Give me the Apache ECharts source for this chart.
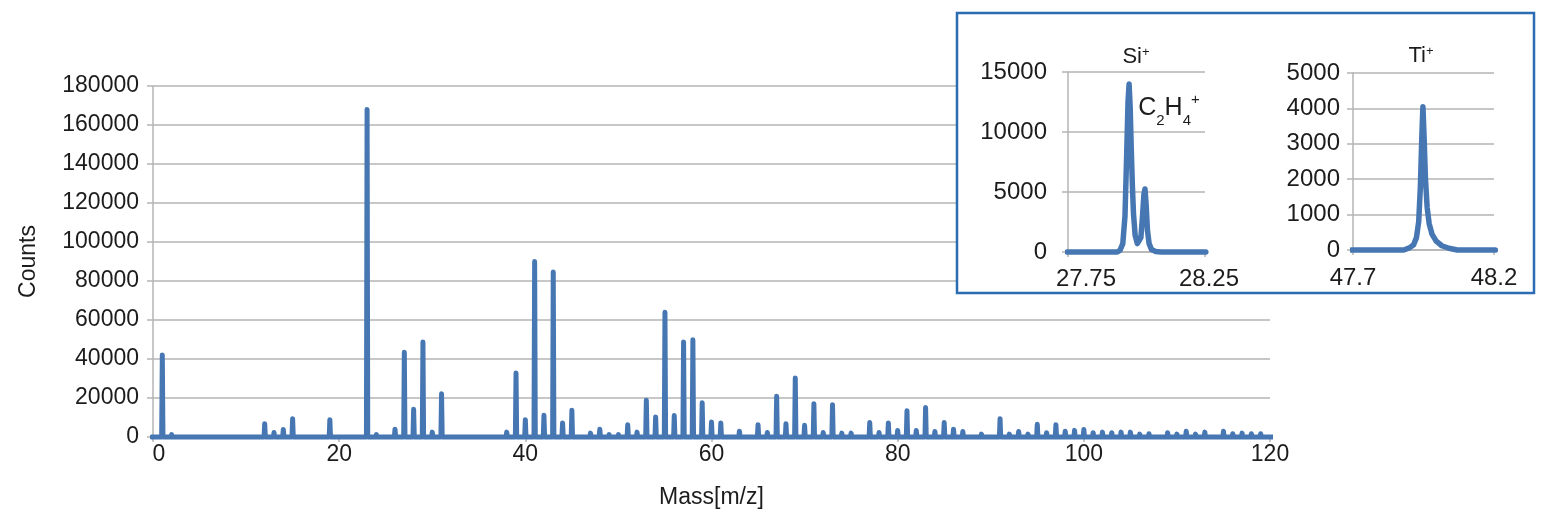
<!DOCTYPE html>
<html>
<head>
<meta charset="utf-8">
<script src="https://cdn.jsdelivr.net/npm/echarts@6/dist/echarts.min.js"></script>
<style>
html,body{margin:0;padding:0;background:#fff;}
#chart{width:1559px;height:520px;}
</style>
</head>
<body>
<div id="chart"></div>
<script>
// ---- Main spectrum: peak masses (m/z) and counts ----
var peakMasses = [1,2,3,6,7,11,12,13,14,15,16,17,18,19,20,21,23,24,26,27,28,29,30,31,37,38,39,40,41,42,43,44,45,46,47,48,49,50,51,52,53,54,55,56,57,58,59,60,61,62,63,64,65,66,67,68,69,70,71,72,73,74,75,76,77,78,79,80,81,82,83,84,85,86,87,88,89,90,91,92,93,94,95,96,97,98,99,100,101,102,103,104,105,106,107,108,109,110,111,112,113,114,115,116,117,118,119,120,121];
var peakCounts = [42000,1200,700,700,700,700,6800,2300,3800,9400,800,700,700,8900,700,700,168000,1200,4000,43500,14200,48700,2500,22200,700,2500,32800,8900,90000,11100,84600,7200,13700,700,2000,4000,1200,1200,6300,2500,18800,10300,64000,11000,48700,49900,17600,7700,7200,800,3000,800,6300,2300,20900,6800,30300,6000,17100,2300,16600,2000,2000,1000,7400,2300,7200,3300,13400,3300,15100,2800,7400,4000,2800,900,1500,800,9400,1500,2800,1500,6500,2200,6300,2900,3400,3800,2200,2500,2200,2500,2500,1500,1700,800,2200,1500,2900,1500,2500,800,2900,1700,2000,1700,1700,900,900];
var spectrumRange = [-0.15, 121.3];
var mainYTicks = [0,20000,40000,60000,80000,100000,120000,140000,160000,180000];
var mainXTicks = [0,20,40,60,80,100,120];

// ---- Inset 1: Si+ / C2H4+ around m/z 28 ----
var siMass   = [27.747,27.90,27.930,27.940,27.950,27.958,27.964,27.969,27.973,27.977,27.981,27.985,27.989,27.995,28.003,28.010,28.016,28.022,28.027,28.031,28.035,28.040,28.046,28.055,28.070,28.090,28.253];
var siCounts = [0,0,0,150,700,3000,8000,12500,14000,12000,8500,5500,3200,1400,700,550,1200,3000,4800,5250,4000,1800,700,200,50,0,0];
var siXTicks = [27.75, 28.25];
var siYTicks = [0,5000,10000,15000];

// ---- Inset 2: Ti+ around m/z 48 ----
var tiMass   = [47.695,47.88,47.90,47.915,47.925,47.933,47.939,47.944,47.948,47.952,47.957,47.963,47.970,47.980,47.995,48.015,48.040,48.070,48.205];
var tiCounts = [0,0,60,150,350,800,1800,3200,4050,3200,2000,1200,750,450,250,120,50,0,0];
var tiXTicks = [47.7, 48.2];
var tiYTicks = [0,1000,2000,3000,4000,5000];

var BLUE = '#4777b3';
var GRID = '#b5b5b5';
var TXT = '#1c1c1c';
var FONT = '"Liberation Sans", Arial, sans-serif';

// Build stick spectrum polyline from peak arrays
var spec = [[spectrumRange[0], 0]];
for (var i = 0; i < peakMasses.length; i++) {
  var m = peakMasses[i];
  spec.push([m - 0.07, 0], [m, peakCounts[i]], [m + 0.07, 0]);
}
spec.push([spectrumRange[1], 0]);

function pairs(xs, ys) { return xs.map(function (x, k) { return [x, ys[k]]; }); }
function plain(v) { return String(v); }

var chart = echarts.init(document.getElementById('chart'), null, {renderer: 'canvas'});

function valueAxisX(gridIndex, min, max, ticks, fs, margin, z, zlevel, fmt) {
  return {
    type: 'value', gridIndex: gridIndex, min: min, max: max,
    zlevel: zlevel, z: z,
    axisLine: {show: true, onZero: false, lineStyle: {color: GRID, width: 1.5}},
    axisTick: {show: true, length: 5, lineStyle: {color: GRID, width: 1.5}, customValues: ticks},
    splitLine: {show: false},
    axisLabel: {show: true, fontSize: fs, color: TXT, fontFamily: FONT, margin: margin, customValues: ticks, formatter: fmt}
  };
}
function valueAxisY(gridIndex, ticks, fs, margin, z, zlevel, nameOpts) {
  var o = {
    type: 'value', gridIndex: gridIndex, min: ticks[0], max: ticks[ticks.length - 1],
    interval: ticks[1] - ticks[0],
    zlevel: zlevel, z: z,
    axisLine: {show: true, lineStyle: {color: GRID, width: 1.5}},
    axisTick: {show: true, length: 6, lineStyle: {color: GRID, width: 1.5}},
    splitLine: {show: true, lineStyle: {color: GRID, width: 1.5}},
    axisLabel: {fontSize: fs, color: TXT, fontFamily: FONT, margin: margin, formatter: plain}
  };
  if (nameOpts) { for (var k in nameOpts) o[k] = nameOpts[k]; }
  return o;
}

var option = {
  backgroundColor: '#ffffff',
  animation: false,
  grid: [
    {left: 153, top: 86, width: 1117, height: 351},
    {left: 1068, top: 72, width: 137, height: 180},
    {left: 1353, top: 73, width: 141, height: 177}
  ],
  xAxis: [
    (function () {
      var a = valueAxisX(0, 0, 120, mainXTicks, 23, 6, 0, 0, function (v) {
        return v === 0 ? '{f|0}' : String(v);
      });
      a.axisLabel.rich = {f: {fontSize: 23, color: TXT, fontFamily: FONT, padding: [0, 0, 0, 12]}};
      a.name = 'Mass[m/z]';
      a.nameLocation = 'middle';
      a.nameGap = 49;
      a.nameTextStyle = {fontSize: 23, color: TXT, fontFamily: FONT};
      return a;
    })(),
    (function () {
      var a = valueAxisX(1, 27.75, 28.25, siXTicks, 24, 15, 1, 1, function (v) {
        return v < 28 ? '{f|27.75}' : '{g|28.25}';
      });
      a.axisLabel.rich = {
        f: {fontSize: 24, color: TXT, fontFamily: FONT, padding: [0, 0, 0, 36]},
        g: {fontSize: 24, color: TXT, fontFamily: FONT, padding: [0, 0, 0, 8]}
      };
      return a;
    })(),
    valueAxisX(2, 47.7, 48.2, tiXTicks, 24, 16, 1, 1, function (v) { return v.toFixed(1); })
  ],
  yAxis: [
    valueAxisY(0, mainYTicks, 23, 14, 0, 0, {
      name: 'Counts', nameLocation: 'middle', nameGap: 113,
      nameTextStyle: {fontSize: 23, color: TXT, fontFamily: FONT}
    }),
    valueAxisY(1, siYTicks, 24, 21, 1, 1),
    valueAxisY(2, tiYTicks, 24, 13, 1, 1)
  ],
  graphic: [
    {
      type: 'rect', zlevel: 1, z: 0, silent: true,
      shape: {x: 957, y: 13, width: 577, height: 280},
      style: {fill: '#ffffff', stroke: '#2b6cb3', lineWidth: 2.5}
    },
    {
      type: 'text', zlevel: 1, z: 10, silent: true,
      style: {
        text: '{m|Si}{s|+}', x: 1136, y: 45.5, align: 'center', verticalAlign: 'top',
        rich: {
          m: {fontSize: 22, fontFamily: FONT, fill: TXT, lineHeight: 22, verticalAlign: 'top'},
          s: {fontSize: 13, fontFamily: FONT, fill: TXT, lineHeight: 17, verticalAlign: 'top'}
        }
      }
    },
    {
      type: 'text', zlevel: 1, z: 10, silent: true,
      style: {
        text: '{m|Ti}{s|+}', x: 1421, y: 45, align: 'center', verticalAlign: 'top',
        rich: {
          m: {fontSize: 22, fontFamily: FONT, fill: TXT, lineHeight: 22, verticalAlign: 'top'},
          s: {fontSize: 13, fontFamily: FONT, fill: TXT, lineHeight: 17, verticalAlign: 'top'}
        }
      }
    },
    {
      type: 'text', zlevel: 1, z: 10, silent: true,
      style: {
        text: '{m|C}{b|2}{m|H}{b|4}{p|+}', x: 1169, y: 89, align: 'center', verticalAlign: 'top',
        rich: {
          m: {fontSize: 25, fontFamily: FONT, fill: TXT, lineHeight: 26, verticalAlign: 'middle'},
          b: {fontSize: 15, fontFamily: FONT, fill: TXT, lineHeight: 39, verticalAlign: 'bottom'},
          p: {fontSize: 15, fontFamily: FONT, fill: TXT, lineHeight: 18, verticalAlign: 'top', padding: [3, 0, 0, 0]}
        }
      }
    }
  ],
  series: [
    {
      type: 'line', xAxisIndex: 0, yAxisIndex: 0, data: spec,
      showSymbol: false, clip: false, z: 2, zlevel: 0,
      lineStyle: {color: BLUE, width: 5, cap: 'round', join: 'round'}
    },
    {
      type: 'line', xAxisIndex: 1, yAxisIndex: 1, data: pairs(siMass, siCounts),
      showSymbol: false, clip: false, z: 3, zlevel: 1,
      lineStyle: {color: BLUE, width: 5.5, cap: 'round', join: 'round'}
    },
    {
      type: 'line', xAxisIndex: 2, yAxisIndex: 2, data: pairs(tiMass, tiCounts),
      showSymbol: false, clip: false, z: 3, zlevel: 1,
      lineStyle: {color: BLUE, width: 5.5, cap: 'round', join: 'round'}
    }
  ]
};
chart.setOption(option);
</script>
</body>
</html>
